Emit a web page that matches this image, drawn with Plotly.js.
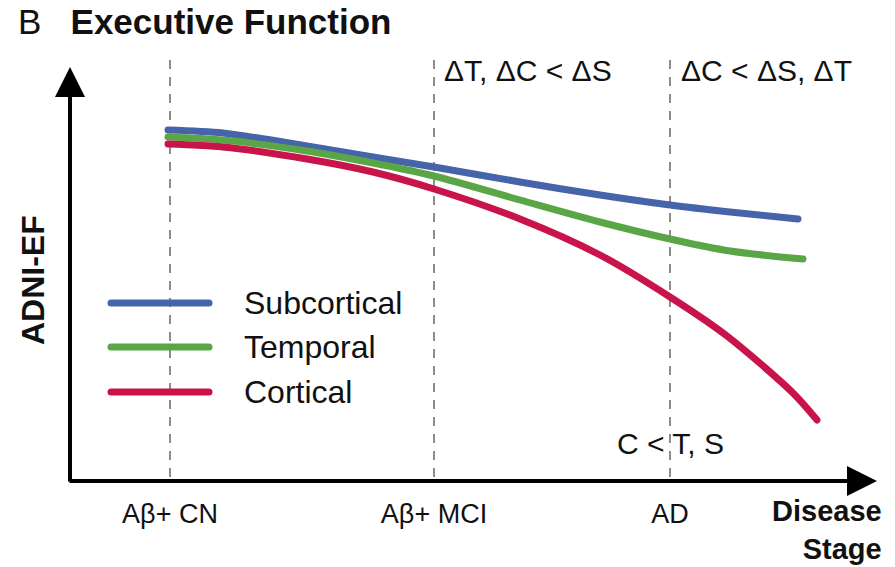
<!DOCTYPE html>
<html>
<head>
<meta charset="utf-8">
<script src="https://cdn.plot.ly/plotly-3.0.1.min.js"></script>
<style>
  html, body { margin: 0; padding: 0; background: #fff; }
  #chart { width: 895px; height: 567px; }
  .scatterlayer .js-line, .shapelayer path { stroke-linecap: round; }
</style>
</head>
<body>
<div id="chart"></div>
<script>
// Disease stages along the horizontal axis (progression units)
const stageLabels = ['Aβ+ CN', 'Aβ+ MCI', 'AD'];
const stagePos = [1.0, 3.64, 6.0];

// Series names and colours
const seriesNames = ['Subcortical', 'Temporal', 'Cortical'];
const seriesColors = ['#4664aa', '#5aa546', '#c8144b'];

// ADNI-EF trajectories (arbitrary units)
const subX = [0.98, 1.53, 2.37, 3.03, 3.64, 4.50, 5.30, 6.00, 6.60, 7.28];
const subY = [3.51, 3.48, 3.35, 3.24, 3.14, 2.99, 2.86, 2.76, 2.69, 2.62];
const tempX = [0.98, 1.53, 2.37, 3.03, 3.64, 4.50, 5.30, 6.00, 6.60, 7.33];
const tempY = [3.44, 3.41, 3.30, 3.18, 3.05, 2.81, 2.59, 2.42, 2.30, 2.22];
const cortX = [0.98, 1.53, 2.37, 3.03, 3.64, 4.50, 5.30, 6.00, 6.57, 7.23, 7.47];
const cortY = [3.37, 3.34, 3.22, 3.09, 2.92, 2.62, 2.26, 1.84, 1.45, 0.88, 0.61];

// Contrast annotations
const contrastMCI = 'ΔT, ΔC &lt; ΔS';
const contrastAD = 'ΔC &lt; ΔS, ΔT';
const contrastADLevel = 'C &lt; T, S';

const W = 895, H = 567;
const M = { l: 70, r: 10, t: 60, b: 86 };
const plotW = W - M.l - M.r, plotH = H - M.t - M.b;
// pixel -> paper helpers for layout decorations
const px = v => (v - M.l) / plotW;
const py = v => (M.t + plotH - v) / plotH;

const FONT = 'Liberation Sans, Arial, Helvetica, sans-serif';
const INK = '#111111';
const lineW = 7;

const xs = [subX, tempX, cortX];
const ys = [subY, tempY, cortY];
const traces = seriesNames.map((name, i) => ({
  type: 'scatter', mode: 'lines', name: name,
  x: xs[i], y: ys[i],
  line: { color: seriesColors[i], width: lineW, shape: 'spline', smoothing: 0.8 },
  hoverinfo: 'skip', showlegend: false
}));

// Legend drawn as long swatches with labels
const legendRows = [303, 347, 392];
const shapes = seriesNames.map((name, i) => ({
  type: 'line', xref: 'paper', yref: 'paper',
  x0: px(111), x1: px(209), y0: py(legendRows[i]), y1: py(legendRows[i]),
  line: { color: seriesColors[i], width: lineW }
}));

const annotations = seriesNames.map((name, i) => ({
  xref: 'paper', yref: 'paper', x: px(242), y: py(legendRows[i]),
  xanchor: 'left', yanchor: 'middle', text: name, showarrow: false,
  font: { family: FONT, size: 32, color: INK }
}));

const arrowStyle = { text: '', showarrow: true, axref: 'pixel', ayref: 'pixel',
  arrowhead: 2, arrowsize: 1.5, arrowwidth: 4, arrowcolor: '#000' };

annotations.push(
  // y axis arrow
  Object.assign({ xref: 'paper', yref: 'paper', x: 0, y: py(67), ax: 0, ay: 483 - 67 }, arrowStyle),
  // x axis arrow
  Object.assign({ xref: 'paper', yref: 'paper', x: px(877), y: 0, ax: -(877 - 68), ay: 0 }, arrowStyle),
  { xref: 'paper', yref: 'paper', x: px(33), y: py(280), xanchor: 'center', yanchor: 'middle',
    textangle: -90, text: '<b>ADNI-EF</b>', showarrow: false,
    font: { family: FONT, size: 32, color: INK } },
  { xref: 'paper', yref: 'paper', x: px(884), y: py(530), xanchor: 'right', yanchor: 'middle',
    align: 'right', text: '<b>Disease<br>Stage</b>', showarrow: false,
    font: { family: FONT, size: 29, color: INK } },
  { xref: 'x', yref: 'paper', x: stagePos[1], xshift: 8, y: py(71), xanchor: 'left', yanchor: 'middle',
    text: contrastMCI, showarrow: false, font: { family: FONT, size: 30, color: INK } },
  { xref: 'x', yref: 'paper', x: stagePos[2], xshift: 9, y: py(71), xanchor: 'left', yanchor: 'middle',
    text: contrastAD, showarrow: false, font: { family: FONT, size: 30, color: INK } },
  { xref: 'x', yref: 'paper', x: stagePos[2], y: py(443), xanchor: 'center', yanchor: 'middle',
    text: contrastADLevel, showarrow: false, font: { family: FONT, size: 30, color: INK } }
);

const layout = {
  width: W, height: H, margin: M,
  paper_bgcolor: '#fff', plot_bgcolor: '#fff',
  font: { family: FONT, color: INK },
  title: {
    text: 'B\u00a0\u00a0\u00a0<b>Executive Function</b>',
    font: { family: FONT, size: 35, color: INK },
    xref: 'container', x: 18 / W, xanchor: 'left',
    yref: 'container', y: 1 - 22 / H, yanchor: 'middle'
  },
  xaxis: {
    range: [0, plotW / 100], fixedrange: true,
    showline: false, zeroline: false,
    tickmode: 'array', tickvals: stagePos, ticktext: stageLabels,
    ticks: '', ticklabelstandoff: 14,
    tickfont: { family: FONT, size: 27, color: INK },
    showgrid: true, gridcolor: '#8c8c8c', gridwidth: 2, griddash: '9px,8px'
  },
  yaxis: {
    range: [0, plotH / 100], fixedrange: true,
    showline: false, zeroline: false, showgrid: false,
    showticklabels: false, ticks: ''
  },
  shapes: shapes,
  annotations: annotations,
  showlegend: false
};

Plotly.newPlot('chart', traces, layout, { displayModeBar: false, staticPlot: true });
</script>
</body>
</html>
